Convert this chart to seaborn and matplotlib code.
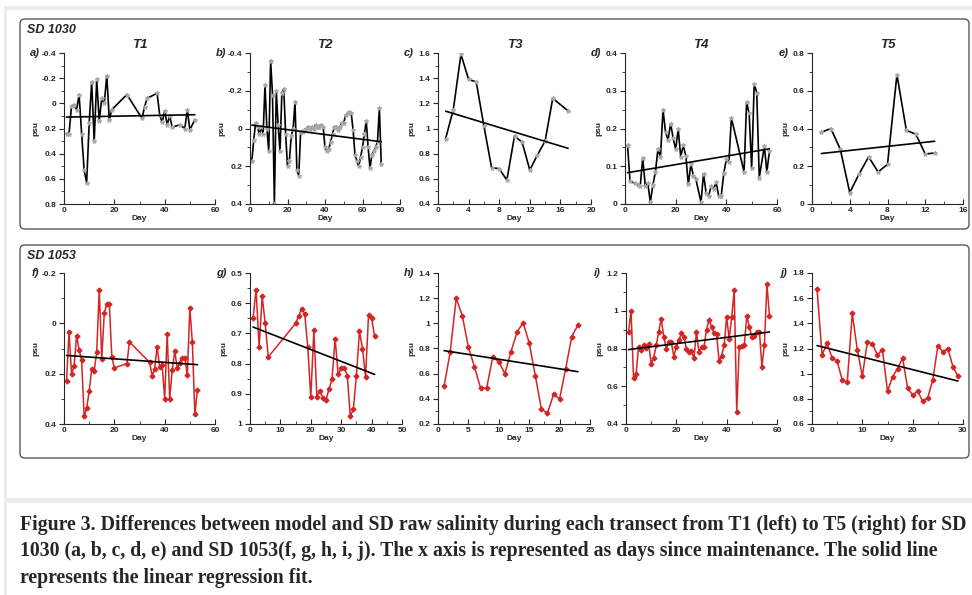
import matplotlib
matplotlib.use('Agg')
import matplotlib.pyplot as plt
from matplotlib.patches import FancyBboxPatch, Rectangle
from matplotlib.ticker import MultipleLocator, FuncFormatter
import seaborn as sns

# ---- SD 1030 (top row) ----
days_a = [1, 2, 3, 4, 5, 6, 7, 8, 9, 10, 11, 12, 13, 14, 15, 16, 17, 18, 19, 25,
          31, 32, 33, 37, 38, 39, 40, 41, 42, 43, 46, 48, 49, 50, 52]
psu_a = [0.24, 0.24, 0.02, 0.01, 0.05, -0.07, 0.24, 0.53, 0.63, 0.16,
         -0.17, 0.30, -0.19, 0.14, -0.04, 0.0, -0.22, 0.13, 0.05, -0.07,
         0.12, 0.03, -0.04, -0.08, 0.09, 0.15, 0.06, 0.17, 0.10, 0.19,
         0.17, 0.20, 0.05, 0.21, 0.13]

days_b = [1, 2, 3, 4, 5, 6, 7, 8, 9, 10, 11, 12, 13, 14, 15, 16, 17, 18, 19, 20,
          21, 22, 23, 24, 25, 26, 27, 28, 29, 30, 31, 32, 33, 34, 35, 36, 37, 38, 39, 40,
          41, 42, 43, 44, 45, 46, 47, 48, 49, 50, 51, 52, 53, 54, 55, 56, 57, 58, 59, 60,
          61, 62, 63, 64, 65, 66, 67, 68, 69, 70]
psu_b = [0.17, 0.06, -0.03, -0.01, 0.03, -0.01, 0.03, -0.23, 0.0, 0.12,
         -0.36, -0.18, 0.40, -0.20, -0.02, 0.12, -0.19, -0.21, 0.03, 0.20,
         0.17, 0.04, 0.0, -0.14, 0.22, 0.25, 0.02, 0.02, 0.01, 0.0,
         -0.01, 0.0, -0.01, 0.0, -0.02, -0.01, -0.01, -0.02, -0.01, 0.10,
         0.12, 0.11, 0.07, 0.03, -0.01, -0.01, 0.01, -0.01, -0.03, -0.03,
         -0.07, -0.08, -0.09, -0.08, 0.01, 0.14, 0.17, 0.20, 0.15, 0.10,
         0.03, -0.04, 0.10, 0.21, 0.14, 0.12, 0.10, 0.07, -0.11, 0.19]

days_c = [1, 2, 3, 4, 5, 6, 7, 8, 9, 10, 11, 12, 13, 14, 15, 17]
psu_c = [0.92, 1.15, 1.59, 1.39, 1.37, 1.02, 0.69, 0.68, 0.59, 0.94,
         0.89, 0.67, 0.79, 0.90, 1.24, 1.14]

days_d = [1, 2, 4, 5, 6, 7, 8, 9, 10, 11, 12, 13, 14, 15, 16, 17, 18, 19, 20, 21,
          22, 23, 24, 25, 26, 27, 28, 30, 31, 32, 33, 34, 35, 36, 37, 38, 39, 40, 41, 42,
          47, 48, 49, 50, 51, 52, 53, 55, 56, 57]
psu_d = [0.155, 0.06, 0.055, 0.05, 0.047, 0.122, 0.048, 0.055, 0.005, 0.05,
         0.085, 0.145, 0.125, 0.25, 0.19, 0.17, 0.213, 0.175, 0.145, 0.198,
         0.125, 0.155, 0.128, 0.052, 0.105, 0.075, 0.065, 0.005, 0.08, 0.03,
         0.02, 0.048, 0.04, 0.057, 0.02, 0.022, 0.082, 0.118, 0.11, 0.228,
         0.085, 0.27, 0.24, 0.095, 0.318, 0.295, 0.07, 0.153, 0.085, 0.14]

days_e = [1, 2, 3, 4, 5, 6, 7, 8, 9, 10, 11, 12, 13]
psu_e = [0.38, 0.40, 0.29, 0.06, 0.16, 0.25, 0.17, 0.21, 0.685, 0.39, 0.37, 0.265, 0.27]

# ---- SD 1053 (bottom row) ----
days_f = [1, 2, 3, 4, 5, 6, 7, 8, 9, 10, 11, 12, 13, 14, 15, 16, 17, 18, 19, 20,
          25, 26, 34, 35, 36, 37, 38, 39, 40, 41, 42, 43, 44, 45, 46, 47, 48, 49, 50, 51,
          52, 53]
psu_f = [0.23, 0.035, 0.20, 0.17, 0.05, 0.107, 0.146, 0.368, 0.338, 0.27,
         0.183, 0.19, 0.113, -0.134, 0.14, -0.04, -0.078, -0.078, 0.133, 0.177,
         0.16, 0.074, 0.155, 0.208, 0.182, 0.093, 0.173, 0.166, 0.30, 0.043,
         0.30, 0.186, 0.111, 0.179, 0.157, 0.137, 0.137, 0.206, -0.061, 0.074,
         0.362, 0.265]

days_g = [1, 2, 3, 4, 5, 6, 15, 16, 17, 18, 19, 20, 21, 22, 23, 24, 25, 26, 27, 28,
          29, 30, 31, 32, 33, 34, 35, 36, 37, 38, 39, 40, 41]
psu_g = [0.65, 0.555, 0.745, 0.577, 0.667, 0.778, 0.667, 0.643, 0.618, 0.635,
         0.745, 0.912, 0.69, 0.91, 0.89, 0.915, 0.92, 0.884, 0.85, 0.717,
         0.836, 0.816, 0.813, 0.84, 0.974, 0.951, 0.84, 0.693, 0.75, 0.844,
         0.638, 0.649, 0.71]

days_h = [1, 2, 3, 4, 5, 6, 7, 8, 9, 10, 11, 12, 13, 14, 15, 16, 17, 18, 19, 20,
          21, 22, 23]
psu_h = [0.50, 0.77, 1.20, 1.06, 0.81, 0.655, 0.485, 0.485, 0.73, 0.695,
         0.60, 0.775, 0.93, 1.005, 0.845, 0.585, 0.32, 0.285, 0.435, 0.40,
         0.64, 0.895, 0.985]

days_i = [1, 2, 3, 4, 5, 6, 7, 8, 9, 10, 11, 12, 13, 14, 15, 16, 17, 18, 19, 20,
          21, 22, 23, 24, 25, 26, 27, 28, 29, 30, 31, 32, 33, 34, 35, 36, 37, 38, 39, 40,
          41, 42, 43, 44, 45, 46, 47, 48, 49, 50, 51, 52, 53, 54, 55, 56, 57]
psu_i = [0.888, 0.999, 0.642, 0.663, 0.81, 0.793, 0.82, 0.803, 0.824, 0.72,
         0.75, 0.817, 0.888, 0.958, 0.862, 0.80, 0.835, 0.832, 0.757, 0.81,
         0.845, 0.88, 0.862, 0.80, 0.78, 0.785, 0.75, 0.888, 0.78, 0.81,
         0.81, 0.90, 0.953, 0.916, 0.88, 0.875, 0.732, 0.76, 0.82, 0.967,
         0.85, 0.965, 1.108, 0.464, 0.81, 0.815, 0.817, 0.973, 0.915, 0.862,
         0.868, 0.89, 0.89, 0.703, 0.82, 1.141, 0.973]

days_j = [1, 2, 3, 4, 5, 6, 7, 8, 9, 10, 11, 12, 13, 14, 15, 16, 17, 18, 19, 20,
          21, 22, 23, 24, 25, 26, 27, 28, 29]
psu_j = [1.67, 1.15, 1.24, 1.125, 1.10, 0.95, 0.93, 1.48, 1.19, 0.98,
         1.25, 1.235, 1.15, 1.19, 0.86, 0.975, 1.04, 1.125, 0.885, 0.83,
         0.86, 0.78, 0.81, 0.95, 1.22, 1.175, 1.20, 1.055, 0.98]

titles = ['T1', 'T2', 'T3', 'T4', 'T5']
caption = [
    "Figure 3. Differences between model and SD raw salinity during each transect from T1 (left) to T5 (right) for SD",
    "1030 (a, b, c, d, e) and SD 1053(f, g, h, i, j). The x axis is represented as days since maintenance. The solid line",
    "represents the linear regression fit.",
]

sns.set_style('ticks')
plt.rcParams['font.family'] = ['Liberation Sans', 'DejaVu Sans']

W, H = 972, 595
fig = plt.figure(figsize=(W / 100, H / 100), dpi=100)

# page decoration: grey strips and the two rounded frames
for x, y, w, h in [(4, 6, 968, 4), (4, 6, 3, 589), (4, 498, 968, 5)]:
    fig.add_artist(Rectangle((x / W, 1 - (y + h) / H), w / W, h / H,
                             transform=fig.transFigure, color='#ececec', lw=0))
for y0, y1 in [(19, 229), (245, 458)]:
    fig.add_artist(FancyBboxPatch((20 / W, 1 - y1 / H), 949 / W, (y1 - y0) / H,
                                  boxstyle='round,pad=0,rounding_size=0.005',
                                  mutation_aspect=W / H, transform=fig.transFigure,
                                  fill=False, ec='#5a5a5a', lw=1.0))
fig.text(27 / W, 1 - 30 / H, 'SD 1030', fontsize=9, fontweight='bold', style='italic', va='center')
fig.text(27 / W, 1 - 256 / H, 'SD 1053', fontsize=9, fontweight='bold', style='italic', va='center')


def fmt_tick(v, pos):
    if abs(v) < 1e-9:
        return '0'
    return f'{round(v, 3):g}'


def add_axes(x0, y0, x1, y1):
    return fig.add_axes([x0 / W, 1 - y1 / H, (x1 - x0) / W, (y1 - y0) / H])


def draw_panel(ax, days, psu, letter, xmax, xmaj, xmin, ylim, ymaj, ymin, invert, red):
    if red:
        sns.lineplot(x=days, y=psu, ax=ax, color='#d42424', lw=1.1, marker='P',
                     markersize=3.3, markerfacecolor='#d42424', markeredgecolor='#d42424', sort=False)
    else:
        sns.lineplot(x=days, y=psu, ax=ax, color='black', lw=1.2, marker='*',
                     markersize=3.5, markerfacecolor='#a8a8a8', markeredgecolor='#a8a8a8', sort=False)
    sns.regplot(x=days, y=psu, ax=ax, scatter=False, ci=None, color='black',
                line_kws={'lw': 1.2})
    ax.set_xlim(0, xmax)
    ax.set_ylim(*ylim)
    if invert:
        ax.invert_yaxis()
    ax.xaxis.set_major_locator(MultipleLocator(xmaj))
    ax.xaxis.set_minor_locator(MultipleLocator(xmin))
    ax.yaxis.set_major_locator(MultipleLocator(ymaj))
    ax.yaxis.set_minor_locator(MultipleLocator(ymin))
    ax.xaxis.set_major_formatter(FuncFormatter(fmt_tick))
    ax.yaxis.set_major_formatter(FuncFormatter(fmt_tick))
    ax.tick_params(axis='both', which='major', length=3.5, width=0.8, labelsize=6, pad=2)
    ax.tick_params(axis='both', which='minor', length=2, width=0.6)
    ax.tick_params(axis='x', which='both', direction='in')
    ax.tick_params(axis='y', which='both', direction='out')
    for lab in ax.get_xticklabels() + ax.get_yticklabels():
        lab.set_fontweight('bold')
    ax.set_xlabel('Day', fontsize=6, fontweight='bold', labelpad=1)
    ax.set_ylabel('psu', fontsize=6, fontweight='bold', labelpad=2)
    sns.despine(ax=ax)
    for s in ['left', 'bottom']:
        ax.spines[s].set_linewidth(0.8)
    ax.text(-0.19, 1.0, letter, transform=ax.transAxes, ha='center', va='center',
            fontsize=8, fontweight='bold', style='italic')


top_x = [(64, 215), (250, 400), (438, 591), (625, 777), (812, 963)]
bot_x = [(64, 215), (250, 402), (438, 590), (626, 777), (812, 963)]

top = [
    (days_a, psu_a, 'a)', 60, 20, 10, (-0.4, 0.8), 0.2, 0.1, True),
    (days_b, psu_b, 'b)', 80, 20, 10, (-0.4, 0.4), 0.2, 0.1, True),
    (days_c, psu_c, 'c)', 20, 4, 2, (0.4, 1.6), 0.2, 0.1, False),
    (days_d, psu_d, 'd)', 60, 20, 10, (0, 0.4), 0.1, 0.05, False),
    (days_e, psu_e, 'e)', 16, 4, 2, (0, 0.8), 0.2, 0.1, False),
]
bottom = [
    (days_f, psu_f, 'f)', 60, 20, 10, (-0.2, 0.4), 0.2, 0.1, True),
    (days_g, psu_g, 'g)', 50, 10, 5, (0.5, 1.0), 0.1, 0.05, True),
    (days_h, psu_h, 'h)', 25, 5, 2.5, (0.2, 1.4), 0.2, 0.1, False),
    (days_i, psu_i, 'i)', 60, 20, 10, (0.4, 1.2), 0.2, 0.1, False),
    (days_j, psu_j, 'j)', 30, 10, 5, (0.6, 1.8), 0.2, 0.1, False),
]

for (x0, x1), spec, t in zip(top_x, top, titles):
    ax = add_axes(x0, 53, x1, 204)
    draw_panel(ax, *spec, red=False)
    ax.text(0.5, 1.055, t, transform=ax.transAxes, ha='center', va='center',
            fontsize=9.5, fontweight='bold', style='italic')

for (x0, x1), spec in zip(bot_x, bottom):
    ax = add_axes(x0, 273, x1, 424)
    draw_panel(ax, *spec, red=True)

for line, y in zip(caption, [525, 551, 578]):
    fig.text(20 / W, 1 - y / H, line, fontsize=14.2, fontweight='bold',
             family='Liberation Serif', va='center')

fig.savefig('out.png', dpi=100)
